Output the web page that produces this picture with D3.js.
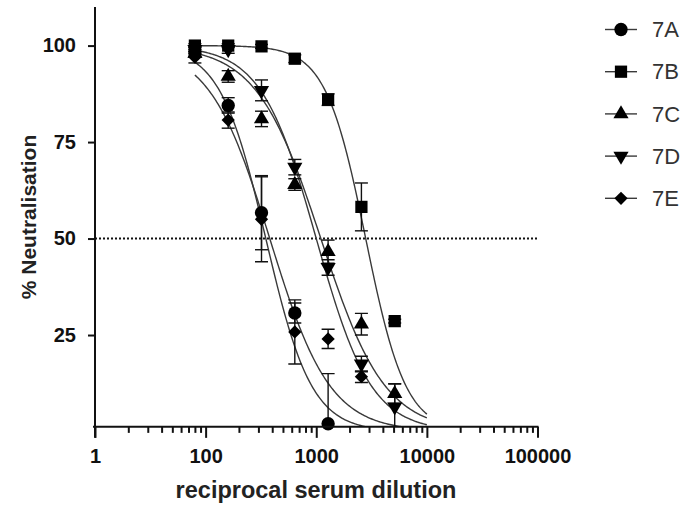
<!DOCTYPE html>
<html>
<head>
<meta charset="utf-8">
<script src="https://cdn.jsdelivr.net/npm/d3@7"></script>
<style>
    body { margin: 0; background: #fff; }
    text { font-family: "Liberation Sans", Arial, sans-serif; }
</style>
</head>
<body>
<div id="chart"></div>
<script>

// dilution series (x) and mean % neutralisation per serum
const dilutions = [80, 160, 320, 640, 1280, 2560, 5120];
const seriesNames = ["7A", "7B", "7C", "7D", "7E"];

const s7A = [98, 84.5, 56.7, 30.7, 2, null, null];
const s7B = [100, 100, 99.8, 96.6, 86, 58.2, 28.6];
const s7C = [98, 92, 81, 64, 46.6, 27.8, 9.8];
const s7D = [99, 99, 88.4, 68.5, 42.5, 17.5, 6.4];
const s7E = [97, 80.7, 55, 25.8, 24, 14.2, null];

// error bars (+/-)
const e7A = [1, 2, 9.6, 2.6, 13, null, null];
const e7B = [0.5, 0.5, 0.5, 1, 1.5, 6.2, 0.5];
const e7C = [1, 1.5, 2, 1.5, 3, 2.8, 2.5];
const e7D = [0.5, 1, 2.7, 2, 2, 2, 6];
const e7E = [1.5, 2.1, 11, 8.3, 2.5, 1.5, null];

// fitted dose-response curves: 100 / (1 + (x/IC50)^hill)
const fitIC50 = [350, 2800, 1100, 1000, 380];
const fitHill = [2.1, 2.4, 1.5, 1.75, 1.6];
const fitRange = [80, 10000];

// axis ticks
const xTickValues = [10, 100, 1000, 10000, 100000];
const xTickLabels = ["1", "100", "1000", "10000", "100000"];
const yTickValues = [25, 50, 75, 100];
const refLine = 50;

const values = [s7A, s7B, s7C, s7D, s7E];
const errors = [e7A, e7B, e7C, e7D, e7E];

const width = 686;
const height = 507;

const svg = d3.select("#chart")
    .append("svg")
    .attr("width", width)
    .attr("height", height);

const xScale = d3.scaleLog()
    .domain([10, 100000])
    .range([95, 537.5]);

const yScale = d3.scaleLinear()
    .domain([0, 110])
    .range([431.5, 7]);

const yFloor = 1.2;                 // x axis sits a little above 0
const axisY = yScale(yFloor);

// symbols
const shapes = [
    d3.symbol().type(d3.symbolCircle).size(140),
    d3.symbol().type(d3.symbolSquare).size(150),
    d3.symbol().type(d3.symbolTriangle).size(100),
    d3.symbol().type(d3.symbolTriangle).size(100),
    d3.symbol().type(d3.symbolSquare).size(88)
];
const rotations = [0, 0, 0, 180, 45];

/*
CLIP
*/
svg.append("defs").append("clipPath")
    .attr("id", "plotClip")
    .append("rect")
    .attr("x", xScale(10))
    .attr("y", 0)
    .attr("width", xScale(100000) - xScale(10))
    .attr("height", axisY);

/*
REFERENCE LINE
*/
svg.append("line")
    .attr("x1", xScale(10))
    .attr("x2", xScale(100000))
    .attr("y1", yScale(refLine))
    .attr("y2", yScale(refLine))
    .attr("stroke", "#111")
    .attr("stroke-width", 2)
    .attr("stroke-dasharray", "2,2");

/*
FIT CURVES
*/
const line = d3.line()
    .x(function (d) { return xScale(d[0]); })
    .y(function (d) { return yScale(d[1]); });

const curveG = svg.append("g").attr("clip-path", "url(#plotClip)");

seriesNames.forEach(function (name, i) {
    const lo = Math.log10(fitRange[0]), hi = Math.log10(fitRange[1]);
    const pts = d3.range(0, 201).map(function (k) {
        const x = Math.pow(10, lo + (hi - lo) * k / 200);
        return [x, 100 / (1 + Math.pow(x / fitIC50[i], fitHill[i]))];
    });
    curveG.append("path")
        .datum(pts)
        .attr("d", line)
        .attr("fill", "none")
        .attr("stroke", "#3a3a3a")
        .attr("stroke-width", 1.4);
});

/*
ERROR BARS + MARKERS
*/
const markG = svg.append("g").attr("clip-path", "url(#plotClip)");
const markTop = svg.append("g");

seriesNames.forEach(function (name, i) {
    const pts = dilutions.map(function (x, j) {
        return { x: x, y: values[i][j], e: errors[i][j] };
    }).filter(function (d) { return d.y !== null; });

    pts.forEach(function (d) {
        if (!d.e) return;
        const cx = xScale(d.x);
        const g = markG.append("g")
            .attr("stroke", "#111")
            .attr("stroke-width", 1.4);
        g.append("line")
            .attr("x1", cx).attr("x2", cx)
            .attr("y1", yScale(d.y - d.e)).attr("y2", yScale(d.y + d.e));
        [d.y - d.e, d.y + d.e].forEach(function (v) {
            g.append("line")
                .attr("x1", cx - 6.5).attr("x2", cx + 6.5)
                .attr("y1", yScale(v)).attr("y2", yScale(v));
        });
    });

    markTop.selectAll(null)
        .data(pts)
        .enter()
        .append("path")
        .attr("d", shapes[i])
        .attr("transform", function (d) {
            return `translate(${xScale(d.x)},${yScale(d.y)}) rotate(${rotations[i]})`;
        })
        .attr("fill", "#000");
});

/*
AXES
*/
const xMinor = [];
[10, 100, 1000, 10000].forEach(function (dec) {
    for (let m = 2; m <= 9; m++) xMinor.push(dec * m);
});

const xAxisG = svg.append("g")
    .attr("transform", `translate(0,${axisY})`);

xAxisG.append("g")
    .call(d3.axisBottom(xScale).tickValues(xMinor).tickFormat("").tickSize(6).tickSizeOuter(0))
    .call(function (g) { g.select(".domain").remove(); });

xAxisG.append("g")
    .call(d3.axisBottom(xScale)
        .tickValues(xTickValues)
        .tickFormat(function (d, i) { return xTickLabels[i]; })
        .tickSize(11)
        .tickPadding(11)
        .tickSizeOuter(0))
    .call(function (g) { g.select(".domain").remove(); });

xAxisG.selectAll("line")
    .attr("stroke", "#111")
    .attr("stroke-width", 2);

xAxisG.selectAll("text")
    .attr("font-size", 20)
    .attr("font-weight", "bold")
    .attr("fill", "#111");

xAxisG.append("line")
    .attr("x1", xScale(10) - 2)
    .attr("x2", xScale(100000) + 1)
    .attr("stroke", "#111")
    .attr("stroke-width", 2);

const yAxisG = svg.append("g")
    .attr("transform", `translate(${xScale(10)},0)`)
    .call(d3.axisLeft(yScale)
        .tickValues(yTickValues)
        .tickSize(7)
        .tickPadding(12)
        .tickSizeOuter(0))
    .call(function (g) { g.select(".domain").remove(); });

yAxisG.selectAll("line")
    .attr("stroke", "#111")
    .attr("stroke-width", 2);

yAxisG.selectAll("text")
    .attr("font-size", 20)
    .attr("font-weight", "bold")
    .attr("fill", "#111");

yAxisG.append("line")
    .attr("y1", yScale(110))
    .attr("y2", axisY + 11)
    .attr("stroke", "#111")
    .attr("stroke-width", 2);

/*
AXIS LABELS
*/
svg.append("text")
    .attr("x", 316)
    .attr("y", 498)
    .attr("text-anchor", "middle")
    .attr("font-size", 23.5)
    .attr("font-weight", "bold")
    .attr("fill", "#222")
    .text("reciprocal serum dilution");

svg.append("text")
    .attr("transform", "rotate(-90)")
    .attr("x", -217)
    .attr("y", 36)
    .attr("text-anchor", "middle")
    .attr("font-size", 21)
    .attr("font-weight", "bold")
    .attr("fill", "#222")
    .text("% Neutralisation");

/*
LEGEND
*/
const legend = svg.append("g");
seriesNames.forEach(function (name, i) {
    const ly = 29.5 + i * 42.2;
    legend.append("line")
        .attr("x1", 605).attr("x2", 637)
        .attr("y1", ly).attr("y2", ly)
        .attr("stroke", "#3a3a3a")
        .attr("stroke-width", 1.4);
    legend.append("path")
        .attr("d", shapes[i])
        .attr("transform", `translate(621,${ly}) rotate(${rotations[i]})`)
        .attr("fill", "#000");
    legend.append("text")
        .attr("x", 652)
        .attr("y", ly)
        .attr("dy", "0.35em")
        .attr("font-size", 22)
        .attr("fill", "#333")
        .text(name);
});

</script>
</body>
</html>
